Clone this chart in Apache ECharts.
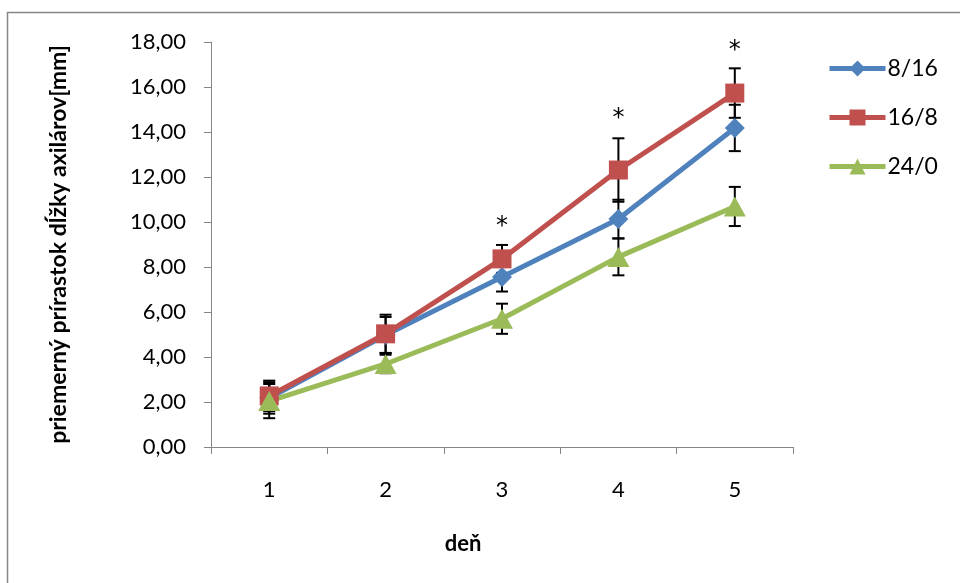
<!DOCTYPE html>
<html><head><meta charset="utf-8">
<script src="https://cdn.jsdelivr.net/npm/echarts@6/dist/echarts.min.js"></script>
<style>html,body{margin:0;padding:0;background:#fff}#c{width:960px;height:583px}</style>
</head><body><div id="c"></div>
<script>
var days = ['1','2','3','4','5'];
var names = ['8/16','16/8','24/0'];
var v816 = [2.18, 4.98, 7.56, 10.13, 14.18];
var v168 = [2.27, 5.03, 8.36, 12.31, 15.73];
var v240 = [2.04, 3.69, 5.70, 8.45, 10.69];
var e816 = [0.70, 0.80, 0.65, 0.86, 1.03];
var e168 = [0.68, 0.85, 0.62, 1.41, 1.10];
var e240 = [0.76, 0.41, 0.67, 0.82, 0.87];
var sigMark = ['', '', '*', '*', '*'];
var sigPos = [null, null, 9.8, 14.6, 17.6];
var yTicks = [0, 2, 4, 6, 8, 10, 12, 14, 16, 18];

var FONT = 'Lato';
var colors = ['#4F81BD', '#C0504D', '#9BBB59'];
var symbols = ['diamond', 'rect', 'triangle'];
var symSizes = [[20, 20], [19, 19], [22, 20]];
var vals = [v816, v168, v240];
var errs = [e816, e168, e240];

function errData(v, e) {
  return v.map(function (y, i) { return [i, y - e[i], y + e[i]]; });
}
function renderErr(params, api) {
  var x = api.value(0);
  var lo = api.coord([x, api.value(1)]);
  var hi = api.coord([x, api.value(2)]);
  var w = 6;
  var st = { stroke: '#000', lineWidth: 2 };
  return { type: 'group', children: [
    { type: 'line', shape: { x1: lo[0], y1: lo[1], x2: hi[0], y2: hi[1] }, style: st },
    { type: 'line', shape: { x1: lo[0] - w, y1: lo[1], x2: lo[0] + w, y2: lo[1] }, style: st },
    { type: 'line', shape: { x1: hi[0] - w, y1: hi[1], x2: hi[0] + w, y2: hi[1] }, style: st }
  ]};
}
function renderSig(params, api) {
  var p = api.coord([api.value(0), api.value(1)]);
  return { type: 'text', x: p[0], y: p[1],
    style: { text: sigMark[api.value(0)], fill: '#000', font: '24px "DejaVu Sans"',
      textAlign: 'center', textVerticalAlign: 'middle' } };
}

var series = [];
for (var k = 0; k < 3; k++) {
  series.push({
    type: 'custom', renderItem: renderErr, data: errData(vals[k], errs[k]),
    encode: { x: 0, y: [1, 2] }, z: 1, silent: true
  });
}
for (var k2 = 0; k2 < 3; k2++) {
  series.push({
    name: names[k2], type: 'line', data: vals[k2], z: 3,
    symbol: symbols[k2], symbolSize: symSizes[k2], showAllSymbol: true,
    lineStyle: { color: colors[k2], width: 5 },
    itemStyle: { color: colors[k2] }
  });
}
series.push({
  type: 'custom', renderItem: renderSig, z: 4, silent: true,
  data: sigPos.map(function (y, i) { return y === null ? null : [i, y]; }).filter(function (d) { return d; }),
  encode: { x: 0, y: 1 }
});

var chart = echarts.init(document.getElementById('c'), null, { renderer: 'canvas' });
chart.setOption({
  animation: false,
  backgroundColor: '#fff',
  color: colors,
  graphic: [{ type: 'rect', shape: { x: 7.5, y: 12.5, width: 1000, height: 1000 },
    style: { fill: 'none', stroke: '#868686', lineWidth: 1.5 }, z: -1 }],
  grid: { left: 211, right: 167, top: 42, bottom: 136 },
  legend: {
    data: names, orient: 'vertical', left: 822, top: 52,
    itemWidth: 56, itemHeight: 20, itemGap: 26,
    lineStyle: { width: 5 },
    textStyle: { fontFamily: FONT, fontSize: 23, color: '#000', padding: [0, 0, 0, -3] }
  },
  xAxis: {
    type: 'category', data: days, boundaryGap: true,
    name: 'deň', nameLocation: 'middle', nameGap: 86,
    nameTextStyle: { fontFamily: FONT, fontSize: 22, fontWeight: 'bold', color: '#000', padding: [0, 78, 0, 0] },
    axisLine: { lineStyle: { color: '#868686', width: 1 } },
    axisTick: { show: true, length: 7, lineStyle: { color: '#868686' } },
    axisLabel: { fontFamily: FONT, fontSize: 22, color: '#000', margin: 32 },
    splitLine: { show: false }
  },
  yAxis: {
    type: 'value', min: 0, max: 18, interval: 2,
    name: 'priemerný prírastok dĺžky axilárov[mm]', nameLocation: 'middle', nameGap: 141,
    nameTextStyle: { fontFamily: FONT, fontSize: 23, fontWeight: 'bold', color: '#000' },
    axisLine: { show: true, lineStyle: { color: '#868686', width: 1 } },
    axisTick: { show: true, length: 7, lineStyle: { color: '#868686' } },
    axisLabel: { fontFamily: FONT, fontSize: 22, color: '#000', margin: 25,
      formatter: function (v) { return v.toFixed(2).replace('.', ','); } },
    splitLine: { show: false }
  },
  series: series
});
</script></body></html>
